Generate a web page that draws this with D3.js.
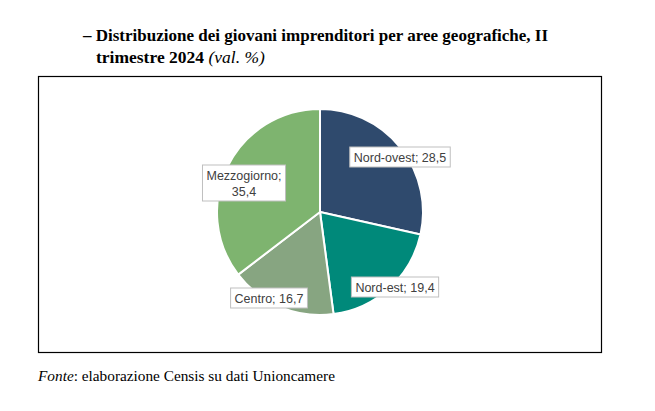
<!DOCTYPE html>
<html><head><meta charset="utf-8">
<script src="https://cdn.jsdelivr.net/npm/d3@7"></script>
<style>html,body{margin:0;padding:0;background:#fff;}svg{display:block;}</style>
</head><body>
<svg id="c" width="655" height="411"></svg>
<script>
const categories = ["Nord-ovest", "Nord-est", "Centro", "Mezzogiorno"];
const values = [28.5, 19.4, 16.7, 35.4];
const valueLabels = ["28,5", "19,4", "16,7", "35,4"];
const colors = ["#2F4A6D", "#00897A", "#87A581", "#7EB46F"];

const svg = d3.select("#c");
// title
const t = svg.append("text").attr("x", 83).attr("y", 41)
  .attr("font-family", "Liberation Serif").attr("font-size", 17).attr("font-weight", "bold").attr("fill", "#000");
t.append("tspan").text("– Distribuzione dei giovani imprenditori per aree geografiche, II");
const t2 = svg.append("text").attr("x", 96).attr("y", 63)
  .attr("font-family", "Liberation Serif").attr("font-size", 17.5).attr("fill", "#000");
t2.append("tspan").attr("font-weight", "bold").text("trimestre 2024 ");
t2.append("tspan").attr("font-style", "italic").text("(val. %)");

// frame
svg.append("rect").attr("x", 38.5).attr("y", 76.5).attr("width", 563).attr("height", 276)
  .attr("fill", "none").attr("stroke", "#000").attr("stroke-width", 1.2);

// pie
const cx = 320, cy = 212, r = 103;
const data = categories.map((c, i) => ({cat: c, v: values[i], lab: valueLabels[i], col: colors[i]}));
const pie = d3.pie().sort(null).value(d => d.v);
const arc = d3.arc().innerRadius(0).outerRadius(r);
const g = svg.append("g").attr("transform", `translate(${cx},${cy})`);
g.selectAll("path").data(pie(data)).join("path")
  .attr("d", arc).attr("fill", d => d.data.col)
  .attr("stroke", "#fff").attr("stroke-width", 2).attr("stroke-linejoin", "round");

// labels
const labelPos = [
  {x: 400, y: 157, lines: [categories[0] + "; " + valueLabels[0]]},
  {x: 395, y: 287, lines: [categories[1] + "; " + valueLabels[1]]},
  {x: 269, y: 298, lines: [categories[2] + "; " + valueLabels[2]]},
  {x: 244, y: 183, lines: [categories[3] + ";", valueLabels[3]]}
];
const lg = svg.append("g");
labelPos.forEach((p, i) => {
  const grp = lg.append("g");
  const lh = 16;
  const txt = grp.append("text").attr("font-family", "Liberation Sans, Arial").attr("font-size", 12.5)
    .attr("fill", "#404040").attr("text-anchor", "middle");
  p.lines.forEach((l, k) => {
    txt.append("tspan").attr("x", p.x).attr("y", p.y + (k - (p.lines.length - 1) / 2) * lh + 4.5).text(l);
  });
  const bb = txt.node().getBBox();
  grp.insert("rect", "text").attr("x", bb.x - 4).attr("y", p.y - (p.lines.length * lh) / 2 - 2)
    .attr("width", bb.width + 8).attr("height", p.lines.length * lh + 4)
    .attr("fill", "#fff").attr("stroke", "#BFBFBF").attr("stroke-width", 1);
});

// source
const s = svg.append("text").attr("x", 38).attr("y", 381)
  .attr("font-family", "Liberation Serif").attr("font-size", 15.3).attr("fill", "#000");
s.append("tspan").attr("font-style", "italic").text("Fonte");
s.append("tspan").text(": elaborazione Censis su dati Unioncamere");
</script>
</body></html>
